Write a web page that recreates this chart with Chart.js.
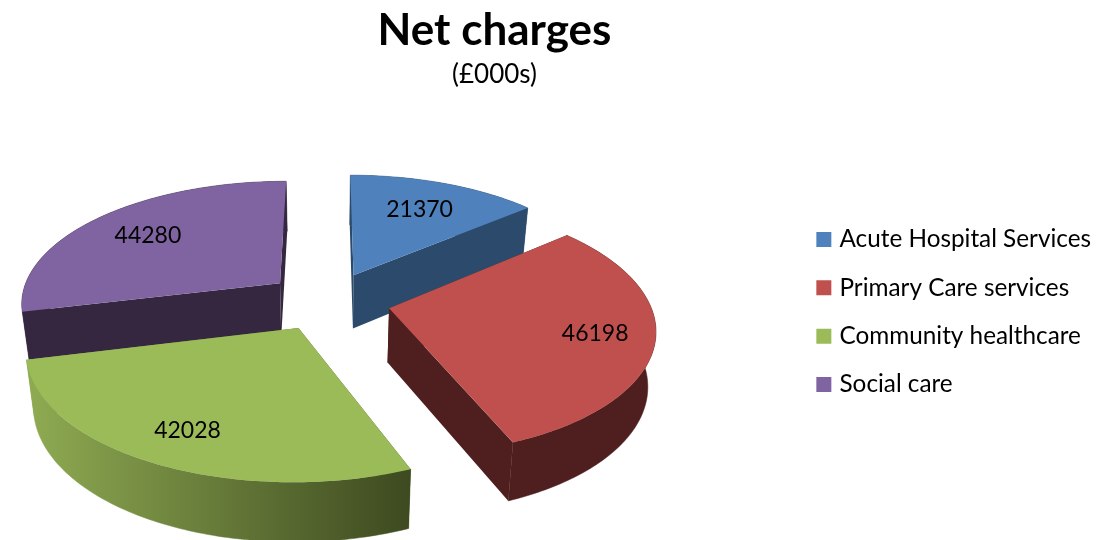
<!DOCTYPE html>
<html>
<head>
<meta charset="utf-8">
<title>Net charges</title>
<script src="https://cdn.jsdelivr.net/npm/chart.js"></script>
<style>
    html, body { margin: 0; padding: 0; background: #fff; }
    canvas { display: block; }
</style>
</head>
<body>
<canvas id="pieChart" width="1097" height="540"></canvas>
<script>
// Values
const categories = ['Acute Hospital Services', 'Primary Care services', 'Community healthcare', 'Social care'];
const netCharges = [21370, 46198, 42028, 44280];

// Colors for the slices
const topColors = ['#4F81BD', '#C0504D', '#9BBB59', '#8064A2'];
const wallColors = ['#2C4A6B', '#4F1F1F', null, '#35273F'];

// How far out along the slice the value label sits
const labelReach = [0.70, 0.78, 0.78, 0.72];

// Tilted pie with some perspective, all in px of the page
const pie = { cx: 328, cy: 301, rx: 260, tilt: 0.47, persp: 0.15, depth: 54, shrink: 0.025, explode: 0.24 };
const fontName = 'Lato, "Open Sans", sans-serif';

// ux, uy are on the unit disc, z is 0 on top of the pie and 1 at the bottom
function project(ux, uy, z) {
    const f = 1 / (1 - pie.persp * uy);
    return {
        x: pie.cx + ux * pie.rx * f * (1 - z * pie.shrink),
        y: pie.cy + uy * pie.rx * pie.tilt * f + z * pie.depth * Math.sqrt(f)
    };
}

function tracePoints(ctx, points) {
    ctx.beginPath();
    points.forEach((p, i) => i ? ctx.lineTo(p.x, p.y) : ctx.moveTo(p.x, p.y));
    ctx.closePath();
}

function sliceEdge(arc, z) {
    const mid = (arc.startAngle + arc.endAngle) / 2;
    const ox = Math.cos(mid) * pie.explode;
    const oy = Math.sin(mid) * pie.explode;
    const steps = Math.ceil((arc.endAngle - arc.startAngle) * 60);
    const points = [];
    for (let i = 0; i <= steps; i++) {
        const a = arc.startAngle + (arc.endAngle - arc.startAngle) * i / steps;
        points.push(project(ox + Math.cos(a), oy + Math.sin(a), z));
    }
    return { apex: project(ox, oy, z), points };
}

// The library works out the angles, this turns them into the 3D slices
const pie3d = {
    id: 'pie3d',
    afterLayout(chart) {
        // title is centred over the pie and not the whole page
        chart.boxes.filter(box => box.position === 'top').forEach(box => {
            box.left -= 52;
            box.right -= 52;
        });
        chart.legend.left += 8;
        chart.legend.right += 8;
        chart.legend.top += 42;
        chart.legend.bottom += 42;
    },
    beforeDatasetsDraw(chart) {
        const ctx = chart.ctx;
        const arcs = chart.getDatasetMeta(0).data.map((arc, index) => ({ arc, index }));
        arcs.sort((a, b) => Math.sin((a.arc.startAngle + a.arc.endAngle) / 2) - Math.sin((b.arc.startAngle + b.arc.endAngle) / 2));

        const wallGreen = ctx.createLinearGradient(27, 0, 408, 0);
        wallGreen.addColorStop(0, '#8FAB52');
        wallGreen.addColorStop(1, '#3E4A20');

        arcs.forEach(({ arc, index }) => {
            const top = sliceEdge(arc, 0);
            const bottom = sliceEdge(arc, 1);
            const wall = wallColors[index] || wallGreen;
            const last = top.points.length - 1;

            ctx.fillStyle = wall;
            ctx.strokeStyle = wall;
            ctx.lineWidth = 0.5;
            tracePoints(ctx, [top.apex, top.points[0], bottom.points[0], bottom.apex]);
            ctx.fill();
            tracePoints(ctx, [top.apex, top.points[last], bottom.points[last], bottom.apex]);
            ctx.fill();
            tracePoints(ctx, top.points.concat(bottom.points.slice().reverse()));
            ctx.fill();
            ctx.stroke();

            ctx.fillStyle = topColors[index];
            tracePoints(ctx, [top.apex].concat(top.points));
            ctx.fill();
        });

        // value labels on top
        ctx.fillStyle = '#000';
        ctx.font = '23px ' + fontName;
        ctx.textAlign = 'center';
        ctx.textBaseline = 'middle';
        chart.getDatasetMeta(0).data.forEach((arc, index) => {
            const mid = (arc.startAngle + arc.endAngle) / 2;
            const reach = pie.explode + labelReach[index];
            const p = project(Math.cos(mid) * reach, Math.sin(mid) * reach, 0);
            ctx.fillText(String(netCharges[index]), p.x, p.y + 1);
        });
        return false;
    }
};

new Chart(document.getElementById('pieChart').getContext('2d'), {
    type: 'pie',
    data: {
        labels: categories,
        datasets: [{
            data: netCharges,
            backgroundColor: topColors,
            borderWidth: 0
        }]
    },
    options: {
        responsive: false,
        animation: false,
        layout: { padding: { right: 4 } },
        plugins: {
            tooltip: { enabled: false },
            title: {
                display: true,
                text: 'Net charges',
                color: '#000',
                font: { family: fontName, size: 44, weight: 'bold' },
                padding: { top: 4, bottom: 0 }
            },
            subtitle: {
                display: true,
                text: '(£000s)',
                color: '#000',
                font: { family: fontName, size: 26, weight: 'normal' },
                padding: { top: 2, bottom: 19 }
            },
            legend: {
                position: 'right',
                labels: {
                    color: '#000',
                    font: { family: fontName, size: 24.3 },
                    // small box with a thick border, keeps the text close to the swatch
                    boxWidth: 7,
                    boxHeight: 7,
                    padding: 24,
                    generateLabels: () => categories.map((text, i) => ({
                        text,
                        index: i,
                        fillStyle: topColors[i],
                        strokeStyle: topColors[i],
                        fontColor: '#000',
                        lineWidth: 8,
                        lineJoin: 'miter'
                    }))
                }
            }
        }
    },
    plugins: [pie3d]
});
</script>
</body>
</html>
